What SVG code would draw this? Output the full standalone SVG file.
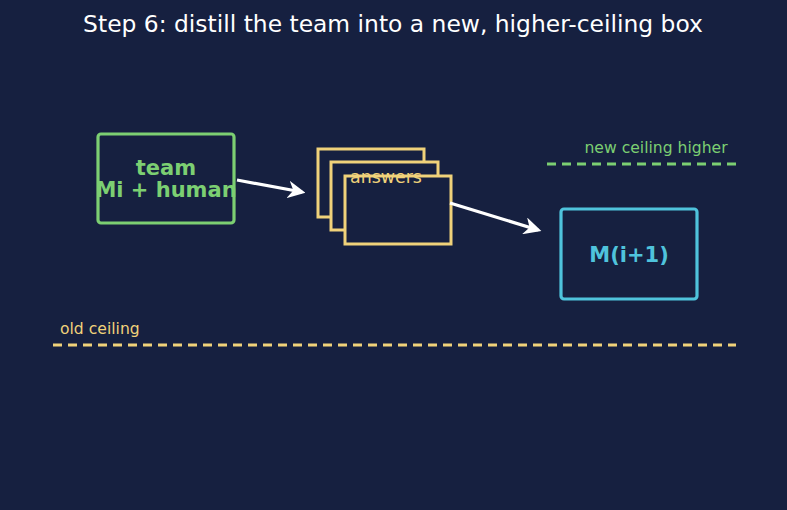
<svg xmlns="http://www.w3.org/2000/svg" width="787" height="510" viewBox="0 0 787 510">
  <style>
    text { font-family: "DejaVu Sans", "Liberation Sans", sans-serif; }
    .title { font-size: 23.4px; fill: #ffffff; }
    .label { font-size: 21px; font-weight: bold; }
    .small { font-size: 15.6px; }
    .card { fill: #162040; stroke: #f0d27a; stroke-width: 3; }
    .conn { stroke: #ffffff; stroke-width: 3.2; fill: none; }
  </style>
  <defs>
    <marker id="arrow" viewBox="0 0 10 10" refX="8" refY="5" markerWidth="5.5" markerHeight="5.5" orient="auto" markerUnits="strokeWidth">
      <path d="M0,0 L10,5 L0,10 L3,5 Z" fill="#ffffff"/>
    </marker>
  </defs>
  <rect width="787" height="510" fill="#162040"/>
  <text class="title" x="393" y="32" text-anchor="middle">Step 6: distill the team into a new, higher-ceiling box</text>

  <!-- ceiling levels -->
  <g id="old-ceiling">
    <line x1="53" y1="345" x2="736" y2="345" stroke="#f0d27a" stroke-width="2.8" stroke-dasharray="9,6"/>
    <text class="small" x="60" y="334" fill="#f0d27a">old ceiling</text>
  </g>
  <g id="new-ceiling">
    <line x1="547" y1="164" x2="736" y2="164" stroke="#7ccf72" stroke-width="2.8" stroke-dasharray="9,6"/>
    <text class="small" x="656" y="153" fill="#7ccf72" text-anchor="middle">new ceiling higher</text>
  </g>

  <g id="team">
    <rect x="98" y="134" width="136" height="89" rx="3" fill="#162040" stroke="#7ccf72" stroke-width="3.2"/>
    <text class="label" x="166" y="175" fill="#7ccf72" text-anchor="middle">team</text>
    <text class="label" x="166" y="197" fill="#7ccf72" text-anchor="middle">Mi + human</text>
  </g>

  <g id="answers">
    <rect class="card" x="318" y="149" width="106" height="68"/>
    <rect class="card" x="331" y="162" width="107" height="68"/>
    <rect class="card" x="345" y="176" width="106" height="68"/>
    <text x="386" y="183" font-size="17.4" fill="#f0d27a" text-anchor="middle">answers</text>
  </g>

  <g id="model-next">
    <rect x="561" y="209" width="136" height="90" rx="3" fill="#162040" stroke="#4fc3dc" stroke-width="3.2"/>
    <text class="label" x="629" y="262" fill="#4fc3dc" text-anchor="middle">M(i+1)</text>
  </g>

  <g id="connectors">
    <line class="conn" x1="237" y1="180" x2="302" y2="192" marker-end="url(#arrow)"/>
    <line class="conn" x1="450" y1="203" x2="538" y2="230" marker-end="url(#arrow)"/>
  </g>
</svg>
